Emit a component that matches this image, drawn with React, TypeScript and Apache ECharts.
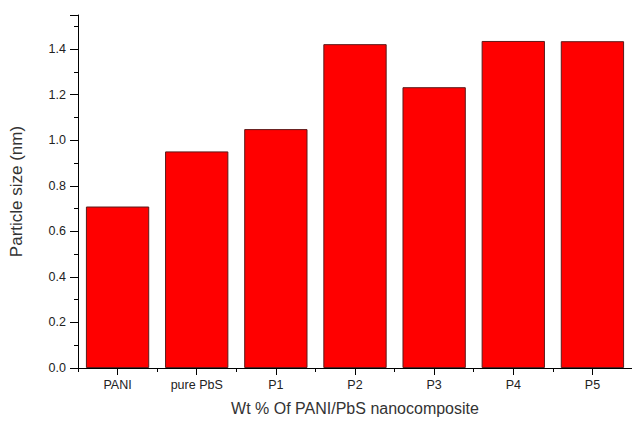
import React, { useEffect, useRef } from "react";
import * as echarts from "echarts";

const categories = ["PANI", "pure PbS", "P1", "P2", "P3", "P4", "P5"];
const particleSize = [0.709, 0.951, 1.049, 1.422, 1.233, 1.436, 1.435];
const yTicks = [0, 0.2, 0.4, 0.6, 0.8, 1.0, 1.2, 1.4];

const FONT = "'Liberation Sans', Arial, sans-serif";

export default function App() {
  const ref = useRef<HTMLDivElement>(null);
  useEffect(() => {
    document.body.style.margin = "0";
    if (!ref.current) return;
    const chart = echarts.init(ref.current, null, { renderer: "svg" });
    chart.setOption({
      animation: false,
      backgroundColor: "#ffffff",
      grid: { left: 77, right: -2, top: 15, bottom: 52, containLabel: false },
      xAxis: [
        {
          type: "category",
          data: categories,
          position: "bottom",
          name: "Wt % Of PANI/PbS nanocomposite",
          nameLocation: "middle",
          nameGap: 32,
          nameTextStyle: { fontFamily: FONT, fontSize: 16, color: "#333" },
          axisLine: { show: true, lineStyle: { color: "#000", width: 1 } },
          axisTick: { show: true, alignWithLabel: true, length: 7, lineStyle: { color: "#000" } },
          axisLabel: { fontFamily: FONT, fontSize: 12.5, color: "#222", margin: 10 },
        },
        {
          type: "category",
          data: categories,
          position: "bottom",
          offset: 0,
          axisLine: { show: false },
          axisTick: { show: true, alignWithLabel: false, length: 4, lineStyle: { color: "#000" } },
          axisLabel: { show: false },
        },
      ],
      yAxis: {
        type: "value",
        min: 0,
        max: 1.55,
        interval: 0.2,
        name: "Particle size (nm)",
        nameLocation: "middle",
        nameGap: 53,
        nameTextStyle: { fontFamily: FONT, fontSize: 17, color: "#333" },
        axisLine: { show: true, lineStyle: { color: "#000", width: 1 } },
        axisTick: { show: true, length: 8, lineStyle: { color: "#000" } },
        minorTick: { show: true, splitNumber: 2, length: 4, lineStyle: { color: "#000" } },
        splitLine: { show: false },
        axisLabel: {
          fontFamily: FONT,
          fontSize: 12.5,
          color: "#222",
          margin: 12,
          formatter: (v: number) => (yTicks.some((t) => Math.abs(t - v) < 1e-6) ? v.toFixed(1) : ""),
        },
      },
      series: [
        {
          type: "bar",
          xAxisIndex: 0,
          data: particleSize,
          barCategoryGap: "20%",
          itemStyle: { color: "#ff0000", borderColor: "#5c1a1a", borderWidth: 1 },
        },
      ],
    });
    return () => chart.dispose();
  }, []);
  return <div ref={ref} style={{ width: 632, height: 421 }} />;
}
